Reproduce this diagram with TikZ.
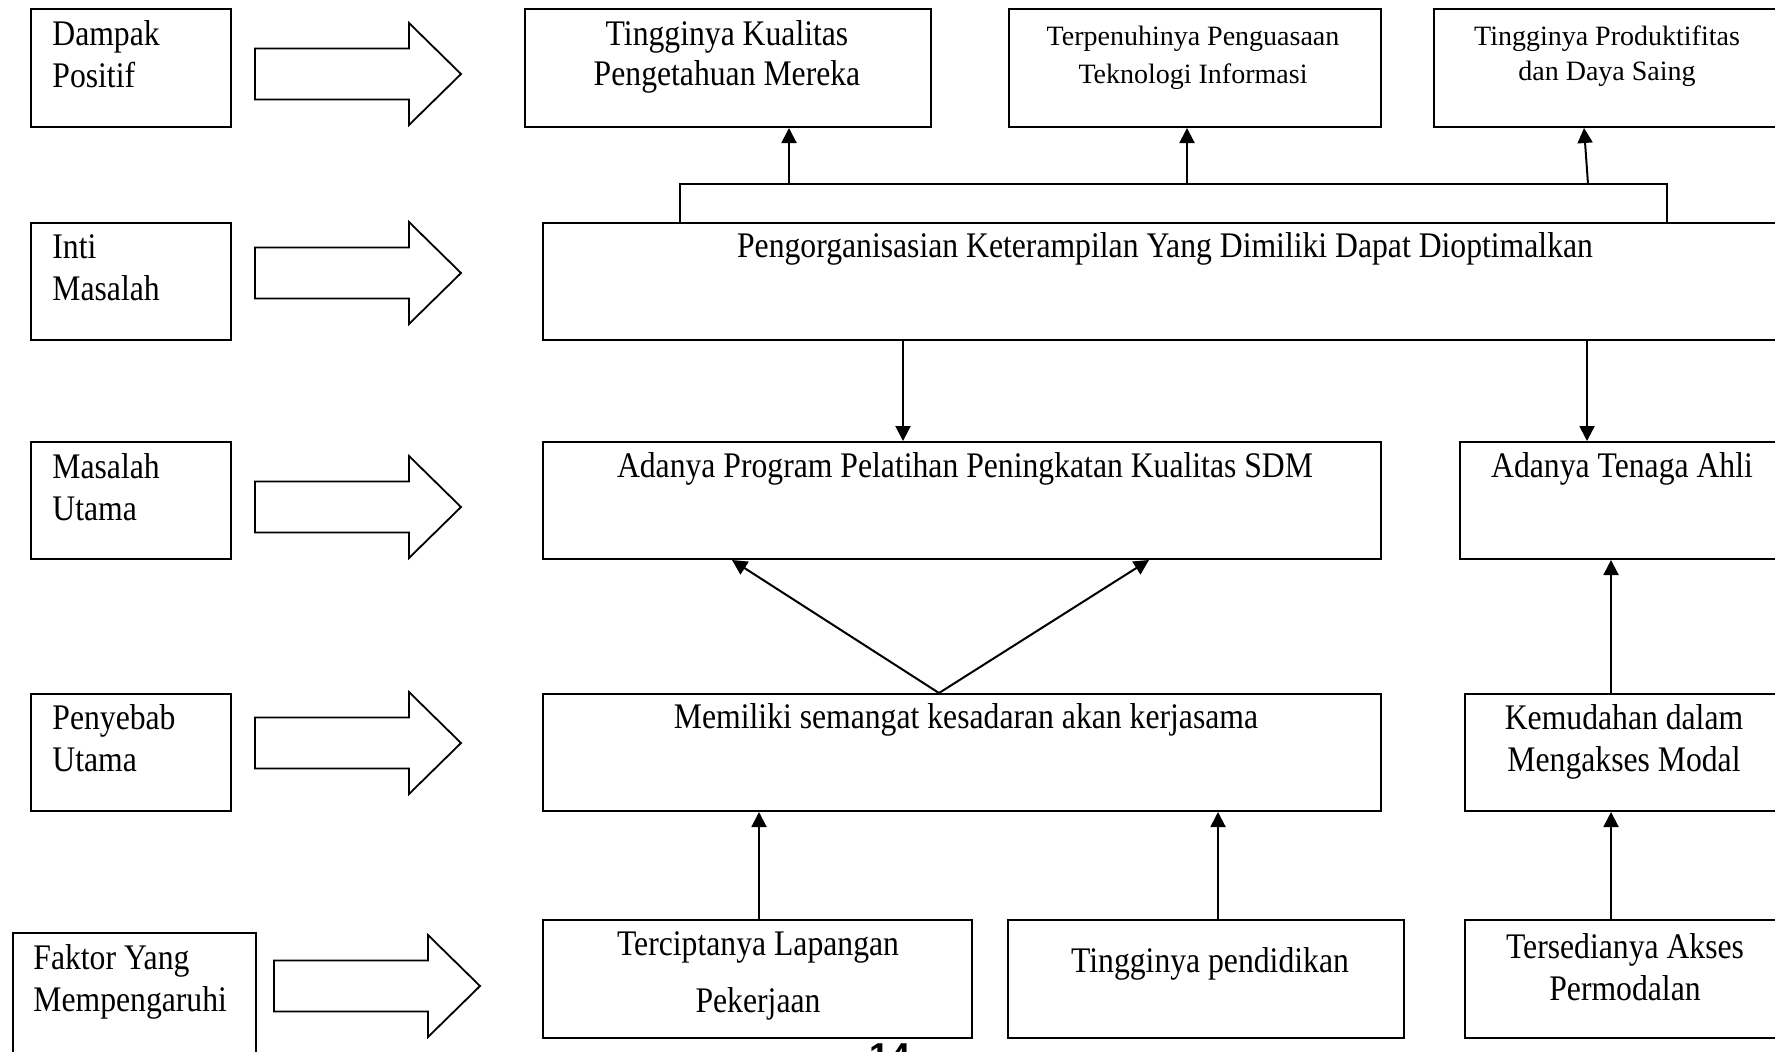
\documentclass[tikz,border=0pt]{standalone}
\usepackage{fontspec}
\setmainfont{Liberation Serif}
\setsansfont{Liberation Sans}
\newfontfamily\narrowfont[FakeStretch=0.88]{Liberation Serif}
\usetikzlibrary{arrows.meta}

\newcommand{\lblock}[1]{\begin{tabular}[t]{@{}l@{}}#1\end{tabular}}
\newcommand{\cblock}[1]{\begin{tabular}[t]{@{}c@{}}#1\end{tabular}}

\tikzset{
  box/.style={draw, line width=1pt, inner sep=0pt, anchor=north west},
  lbl/.style={inner sep=0pt, anchor=base west, font=\narrowfont\fontsize{18}{21}\selectfont},
  txt/.style={inner sep=0pt, anchor=base, font=\narrowfont\fontsize{18}{21}\selectfont},
  small/.style={inner sep=0pt, anchor=base, font=\fontsize{14}{19}\selectfont},
  arr/.style={line width=1pt, -{Triangle[length=7.5pt,width=7.5pt]}},
  bigarrow/.style={draw, line width=0.9pt, fill=white},
}

\begin{document}
\begin{tikzpicture}[x=0.5pt,y=-0.5pt]
\useasboundingbox (0,0) rectangle (1775,1051);

% Left column
\node[box, minimum width=100pt, minimum height=59pt] (dampak) at (30,8) {};
\node[box, minimum width=100pt, minimum height=58.5pt] (intiL) at (30,222) {};
\node[box, minimum width=100pt, minimum height=58.5pt] (masalah) at (30,441) {};
\node[box, minimum width=100pt, minimum height=58.5pt] (penyebab) at (30,693) {};
\node[box, minimum width=121.5pt, minimum height=70pt] (faktor) at (12,932) {};

\node[lbl] (dampakT) at (52,45) {\lblock{Dampak\\Positif}};
\node[lbl] (intiLT) at (52,258) {\lblock{Inti\\Masalah}};
\node[lbl] (masalahT) at (52,478) {\lblock{Masalah\\Utama}};
\node[lbl] (penyebabT) at (52,729) {\lblock{Penyebab\\Utama}};
\node[lbl] (faktorT) at (33,969) {\lblock{Faktor Yang\\Mempengaruhi}};

% Block arrows
\foreach \y/\x in {74/255, 273/255, 507/255, 743/255, 986/274}
  \draw[bigarrow] (\x,\y-25.5) -- (\x+154,\y-25.5) -- (\x+154,\y-51) -- (\x+206,\y)
    -- (\x+154,\y+51) -- (\x+154,\y+25.5) -- (\x,\y+25.5) -- cycle;

% Boxes
\node[box, minimum width=203pt, minimum height=59pt] (top1) at (524,8) {};
\node[box, minimum width=186pt, minimum height=59pt] (top2) at (1008,8) {};
\node[box, minimum width=176.5pt, minimum height=59pt] (top3) at (1433,8) {};
\node[box, minimum width=622pt, minimum height=58.5pt] (inti) at (542,222) {};
\node[box, minimum width=419pt, minimum height=58.5pt] (prog) at (542,441) {};
\node[box, minimum width=163.5pt, minimum height=58.5pt] (tenaga) at (1459,441) {};
\node[box, minimum width=419pt, minimum height=58.5pt] (memiliki) at (542,693) {};
\node[box, minimum width=161pt, minimum height=58.5pt] (kemudahan) at (1464,693) {};
\node[box, minimum width=214.5pt, minimum height=59pt] (tercip) at (542,919) {};
\node[box, minimum width=198pt, minimum height=59pt] (pend) at (1007,919) {};
\node[box, minimum width=161pt, minimum height=59pt] (tersedia) at (1464,919) {};

% Texts
\node[txt, font=\narrowfont\fontsize{18}{20}\selectfont] (top1T) at (727,45) {\cblock{Tingginya Kualitas\\Pengetahuan Mereka}};
\node[small] (top2T) at (1193,45) {\cblock{Terpenuhinya Penguasaan\\Teknologi Informasi}};
\node[small, font=\fontsize{14}{17.5}\selectfont] (top3T) at (1607,45) {\cblock{Tingginya Produktifitas\\dan Daya Saing}};
\node[txt] (intiT) at (1165,257) {Pengorganisasian Keterampilan Yang Dimiliki Dapat Dioptimalkan};
\node[txt] (progT) at (965,477) {Adanya Program Pelatihan Peningkatan Kualitas SDM};
\node[txt] (tenagaT) at (1622,477) {Adanya Tenaga Ahli};
\node[txt] (memilikiT) at (966,728) {Memiliki semangat kesadaran akan kerjasama};
\node[txt] (kemudahanT) at (1624,729) {\cblock{Kemudahan dalam\\Mengakses Modal}};
\node[txt, font=\narrowfont\fontsize{18}{28.5}\selectfont] (tercipT) at (758,955) {\cblock{Terciptanya Lapangan\\Pekerjaan}};
\node[txt] (pendT) at (1210,972) {Tingginya pendidikan};
\node[txt] (tersediaT) at (1625,958) {\cblock{Tersedianya Akses\\Permodalan}};
\node[anchor=north, inner sep=0pt, font=\sffamily\bfseries\fontsize{18}{18}\selectfont] (hal) at (890,1043) {14};

% Connectors
\coordinate (bar) at (0,184);
\draw[line width=1pt] (680,0 |- inti.north) |- (1667,0 |- bar) -- (1667,0 |- inti.north);
\draw[arr] (789,0 |- bar) -- (789,0 |- top1.south);
\draw[arr] (1187,0 |- bar) -- (1187,0 |- top2.south);
\draw[arr] (1588,0 |- bar) -- (1584,0 |- top3.south);
\draw[arr] (903,0 |- inti.south) -- (903,0 |- prog.north);
\draw[arr] (1587,0 |- inti.south) -- (1587,0 |- tenaga.north);
\draw[arr] (939,0 |- memiliki.north) -- (732,0 |- prog.south);
\draw[arr] (939,0 |- memiliki.north) -- (1149,0 |- prog.south);
\draw[arr] (759,0 |- tercip.north) -- (759,0 |- memiliki.south);
\draw[arr] (1218,0 |- pend.north) -- (1218,0 |- memiliki.south);
\draw[arr] (1611,0 |- tersedia.north) -- (1611,0 |- kemudahan.south);
\draw[arr] (1611,0 |- kemudahan.north) -- (1611,0 |- tenaga.south);
\end{tikzpicture}
\end{document}
